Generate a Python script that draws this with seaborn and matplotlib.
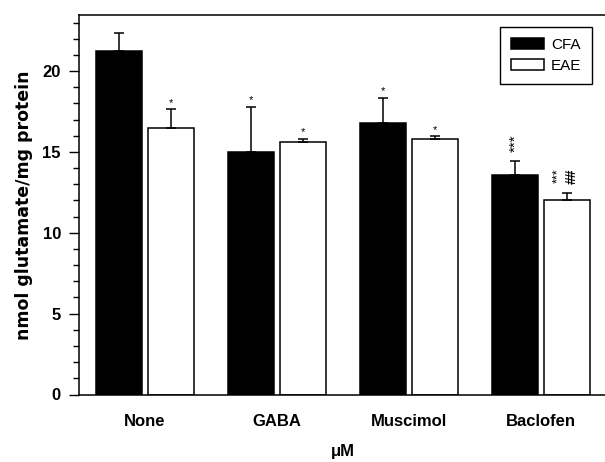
import pandas as pd
import matplotlib
matplotlib.use("Agg")
import matplotlib.pyplot as plt
import seaborn as sns
from matplotlib.ticker import MultipleLocator

# data
groups = ["None", "GABA", "Muscimol", "Baclofen"]
cfa = [21.25, 15.0, 16.8, 13.55]
eae = [16.5, 15.6, 15.8, 12.0]
cfa_err = [1.1, 2.8, 1.55, 0.9]
eae_err = [1.15, 0.22, 0.16, 0.45]
cfa_marks = ["", "*", "*", "***"]
eae_marks = ["*", "*", "*", "***"]
eae_hash = ["", "", "", "##"]

df = pd.DataFrame({
    "Treatment": groups * 2,
    "Group": ["CFA"] * 4 + ["EAE"] * 4,
    "Value": cfa + eae,
})

sns.set_style("ticks")
plt.rcParams["font.family"] = ["Liberation Sans", "DejaVu Sans"]
plt.rcParams.update({"text.color": "black", "axes.labelcolor": "black",
                     "xtick.color": "black", "ytick.color": "black"})

fig = plt.figure(figsize=(6.05, 4.62), dpi=100)
ax = fig.add_axes([79 / 605, 67.5 / 462, 528 / 605, 379.5 / 462])

sns.barplot(data=df, x="Treatment", y="Value", hue="Group",
            palette={"CFA": "black", "EAE": "white"}, saturation=1,
            edgecolor="black", linewidth=1.1, width=0.78, gap=0.115,
            errorbar=None, ax=ax)

# one-sided error bars + significance marks
for cont, vals, errs, marks in zip(ax.containers, [cfa, eae], [cfa_err, eae_err],
                                   [cfa_marks, eae_marks]):
    for i, (bar, v, e, m) in enumerate(zip(cont, vals, errs, marks)):
        x = bar.get_x() + bar.get_width() / 2
        ax.errorbar(x, v, yerr=[[0], [e]], color="black", capsize=3.6,
                    elinewidth=1.1, capthick=1.1, fmt="none")
        if m == "*":
            ax.annotate(m, (x, v + e), xytext=(0, 2.5), textcoords="offset points",
                        ha="center", va="baseline", fontsize=8)
        elif m and vals is eae:
            ax.annotate(m, (x, v + e), xytext=(-6, 12.5), textcoords="offset points",
                        ha="center", va="center", fontsize=9, rotation=90)
        elif m:
            ax.annotate(m, (x, v + e), xytext=(0, 12.5), textcoords="offset points",
                        ha="center", va="center", fontsize=11, rotation=90)
        if vals is eae and eae_hash[i]:
            ax.annotate(eae_hash[i], (x, v + e), xytext=(3.5, 12.5), textcoords="offset points",
                        ha="center", va="center", fontsize=10, fontweight="bold", rotation=90)

ax.set_xlim(-0.5, 3.5)
ax.set_ylim(0, 23.47)
ax.yaxis.set_major_locator(MultipleLocator(5))
ax.yaxis.set_minor_locator(MultipleLocator(1))
ax.tick_params(axis="y", which="major", length=7, width=1, direction="out",
               labelsize=12, pad=6)
ax.tick_params(axis="y", which="minor", length=4, width=1, direction="out")
ax.tick_params(axis="x", length=0, labelsize=12, pad=14)
for lab in ax.get_xticklabels() + ax.get_yticklabels():
    lab.set_fontweight("bold")

for sp in ax.spines.values():
    sp.set_visible(True)
    sp.set_linewidth(1.1)
    sp.set_color("black")

ax.set_ylabel("nmol glutamate/mg protein", fontsize=12.5, fontweight="bold",
              family=["DejaVu Sans"])
ax.yaxis.set_label_coords(-0.088, 0.5)
ax.set_xlabel("\u03bcM", fontsize=12, fontweight="bold")
ax.xaxis.set_label_coords(0.5, -0.13)

handles, labels = ax.get_legend_handles_labels()
leg = ax.legend(handles, labels, loc="upper right", bbox_to_anchor=(0.972, 0.9676),
                borderaxespad=0, frameon=True, fancybox=False, edgecolor="black",
                fontsize=11, handlelength=2.2, handleheight=0.75, handletextpad=0.45,
                labelspacing=0.45, borderpad=0.7, framealpha=1)
leg.get_frame().set_linewidth(1.0)

fig.savefig("out.png", dpi=100)
